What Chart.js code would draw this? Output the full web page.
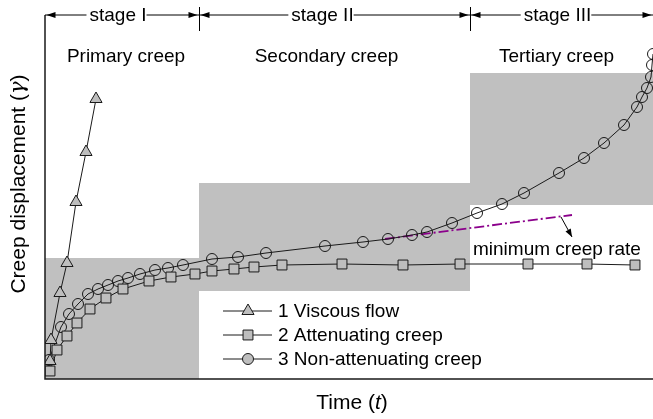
<!DOCTYPE html>
<html>
<head>
<meta charset="utf-8">
<script src="https://cdn.jsdelivr.net/npm/chart.js@4.4.0/dist/chart.umd.min.js"></script>
<style>
  html, body { margin: 0; padding: 0; background: #fff; overflow: hidden; }
  #wrap { width: 653px; height: 419px; }
  #creepChart { display: block; }
</style>
</head>
<body>
<div id="wrap"><canvas id="creepChart" width="653" height="419"></canvas></div>
<script>
// curve 1: viscous flow (time t, displacement gamma, arbitrary units)
const viscousT = [0.5, 0.6, 1.5, 2.2, 3.1, 4.1, 5.1];
const viscousG = [1.8, 3.9, 8.6, 11.6, 17.7, 22.7, 28.0];

// curve 2: attenuating creep
const attenT = [0.5, 1.2, 2.2, 3.2, 4.5, 6.1, 7.8, 10.4, 12.6, 15.0, 16.7, 18.9, 20.9, 23.7, 29.7, 35.8, 41.5, 48.3, 54.2, 59.0];
const attenG = [0.8, 2.9, 4.3, 5.6, 7.0, 8.1, 9.0, 9.8, 10.2, 10.5, 10.8, 11.0, 11.2, 11.4, 11.5, 11.4, 11.5, 11.5, 11.5, 11.4];

// curve 3: non-attenuating creep
const nonAttenT = [0.4, 1.6, 2.4, 3.3, 4.3, 5.3, 6.3, 7.3, 8.3, 9.5, 11.0, 12.3, 13.8, 16.7, 19.3, 22.1, 28.0, 31.8, 34.3, 36.7, 38.2, 40.7, 43.2, 45.7, 47.9, 51.4, 53.9, 55.9, 57.9, 59.2, 59.7, 60.2, 60.6, 60.7, 60.8];
const nonAttenG = [1.9, 5.2, 6.5, 7.5, 8.5, 9.0, 9.4, 9.8, 10.1, 10.5, 10.9, 11.1, 11.4, 12.0, 12.2, 12.6, 13.3, 13.7, 14.0, 14.4, 14.7, 15.6, 16.6, 17.5, 18.6, 20.6, 22.1, 23.6, 25.4, 27.2, 28.2, 29.1, 30.2, 31.4, 32.5];

// minimum creep rate tangent (start, end)
const tangentT = [34.0, 52.7];
const tangentG = [14.0, 16.4];

// stage boundaries on the time axis and the shaded band of each stage
const stageEdges = [0, 15.4, 42.5, 60.8];
const stageNames = ['stage I', 'stage II', 'stage III'];
const creepNames = ['Primary creep', 'Secondary creep', 'Tertiary creep'];
const bandLow = [0, 8.8, 17.4];
const bandHigh = [12.1, 19.6, 30.6];

const toPoints = (xs, ys) => xs.map((v, i) => ({ x: v, y: ys[i] }));

const FONT = '"Liberation Sans", Arial, sans-serif';
const GREY = '#bebebe';
const INK = '#1a1a1a';

function drawMarker(ctx, style, r, px, py) {
  ctx.beginPath();
  if (style === 'triangle') {
    ctx.moveTo(px, py - r);
    ctx.lineTo(px + r * 0.866, py + r * 0.5);
    ctx.lineTo(px - r * 0.866, py + r * 0.5);
    ctx.closePath();
  } else if (style === 'rect') {
    const s = r * Math.SQRT1_2;
    ctx.rect(px - s, py - s, 2 * s, 2 * s);
  } else {
    ctx.arc(px, py, r, 0, Math.PI * 2);
  }
  ctx.fill();
  ctx.stroke();
}

function arrowHead(ctx, tx, ty, dx, dy, len, half) {
  const n = Math.hypot(dx, dy);
  const ux = dx / n, uy = dy / n;
  ctx.beginPath();
  ctx.moveTo(tx, ty);
  ctx.lineTo(tx - ux * len - uy * half, ty - uy * len + ux * half);
  ctx.lineTo(tx - ux * len + uy * half, ty - uy * len - ux * half);
  ctx.closePath();
  ctx.fill();
}

// text made of pieces with their own font, centred on (cx, cy)
function drawRuns(ctx, runs, cx, cy, size) {
  const fonts = runs.map(r => (r.italic ? 'italic ' : '') + size + 'px ' + (r.family || FONT));
  const widths = runs.map((r, i) => { ctx.font = fonts[i]; return ctx.measureText(r.text).width; });
  let xx = cx - widths.reduce((a, b) => a + b, 0) / 2;
  ctx.textAlign = 'left';
  ctx.textBaseline = 'middle';
  runs.forEach((r, i) => { ctx.font = fonts[i]; ctx.fillText(r.text, xx, cy); xx += widths[i]; });
}

const stagePlugin = {
  id: 'stages',
  beforeDatasetsDraw(chart) {
    const { ctx, scales: { x, y } } = chart;
    ctx.save();
    ctx.fillStyle = '#c0c0c0';
    for (let i = 0; i < stageNames.length; i++) {
      const x0 = x.getPixelForValue(stageEdges[i]);
      const x1 = x.getPixelForValue(stageEdges[i + 1]);
      const y0 = y.getPixelForValue(bandHigh[i]);
      const y1 = y.getPixelForValue(bandLow[i]);
      ctx.fillRect(x0, y0, x1 - x0, y1 - y0);
    }
    ctx.restore();
  },
  afterDraw(chart) {
    const { ctx, chartArea: area, scales: { x, y } } = chart;
    ctx.save();

    // axes
    ctx.strokeStyle = INK;
    ctx.lineWidth = 1.5;
    ctx.beginPath();
    ctx.moveTo(area.left, area.top);
    ctx.lineTo(area.left, area.bottom);
    ctx.lineTo(area.right, area.bottom);
    ctx.stroke();

    // stage ruler along the top
    const ry = area.top;
    ctx.lineWidth = 1;
    ctx.strokeStyle = '#000';
    ctx.fillStyle = '#000';
    ctx.beginPath();
    ctx.moveTo(area.left, ry);
    ctx.lineTo(area.right, ry);
    ctx.stroke();
    for (let i = 1; i < stageEdges.length - 1; i++) {
      const bx = Math.round(x.getPixelForValue(stageEdges[i])) + 0.5;
      ctx.beginPath();
      ctx.moveTo(bx, ry - 8);
      ctx.lineTo(bx, ry + 16);
      ctx.stroke();
    }
    const labelShift = [-4, -12, -4];
    ctx.font = '19px ' + FONT;
    ctx.textBaseline = 'middle';
    ctx.textAlign = 'center';
    for (let i = 0; i < stageNames.length; i++) {
      const a = x.getPixelForValue(stageEdges[i]);
      const b = x.getPixelForValue(stageEdges[i + 1]);
      arrowHead(ctx, a + 1.5, ry, -1, 0, 9, 3);
      arrowHead(ctx, b - 1.5, ry, 1, 0, 9, 3);
      const cx = (a + b) / 2 + labelShift[i];
      const w = ctx.measureText(stageNames[i]).width;
      ctx.fillStyle = '#fff';
      ctx.fillRect(cx - w / 2 - 3, ry - 8, w + 3, 16);
      ctx.fillStyle = '#000';
      ctx.fillText(stageNames[i], cx, ry + 1);
    }

    // creep phase names
    const phaseShift = [4, -8, -5];
    for (let i = 0; i < creepNames.length; i++) {
      const cx = (x.getPixelForValue(stageEdges[i]) + x.getPixelForValue(stageEdges[i + 1])) / 2 + phaseShift[i];
      ctx.fillText(creepNames[i], cx, ry + 42);
    }

    // minimum creep rate note with its pointer
    const ax0 = x.getPixelForValue(51.6), ay0 = y.getPixelForValue(16.2);
    const ax1 = x.getPixelForValue(52.7), ay1 = y.getPixelForValue(14.2);
    ctx.beginPath();
    ctx.moveTo(ax0, ay0);
    ctx.lineTo(ax1, ay1);
    ctx.stroke();
    arrowHead(ctx, ax1, ay1, ax1 - ax0, ay1 - ay0, 8, 3);
    ctx.textAlign = 'left';
    ctx.fillText('minimum creep rate', 473, 250);

    // legend
    const rows = [311, 335, 359];
    chart.data.datasets.slice(0, 3).forEach((ds, i) => {
      const ly = rows[i];
      ctx.strokeStyle = INK;
      ctx.lineWidth = 1;
      ctx.beginPath();
      ctx.moveTo(223, ly);
      ctx.lineTo(272, ly);
      ctx.stroke();
      ctx.fillStyle = GREY;
      drawMarker(ctx, ds.pointStyle, ds.pointRadius, 248, ly);
      ctx.fillStyle = '#000';
      ctx.font = '19px ' + FONT;
      ctx.textBaseline = 'middle';
      ctx.fillText(ds.label, 278, ly + 1);
    });

    // axis titles
    ctx.fillStyle = '#000';
    drawRuns(ctx, [{ text: 'Time (' }, { text: 't', italic: true }, { text: ')' }], 352, 403, 21);
    ctx.translate(19, 184);
    ctx.rotate(-Math.PI / 2);
    drawRuns(ctx, [{ text: 'Creep displacement (' }, { text: 'γ', italic: true, family: '"DejaVu Serif", serif' }, { text: ')' }], 0, 0, 21);

    ctx.restore();
  }
};

new Chart(document.getElementById('creepChart').getContext('2d'), {
  type: 'line',
  data: {
    datasets: [
      {
        label: '1 Viscous flow',
        data: toPoints(viscousT, viscousG),
        borderColor: INK,
        borderWidth: 1,
        pointStyle: 'triangle',
        pointRadius: 7,
        pointBackgroundColor: GREY,
        pointBorderColor: INK,
        pointBorderWidth: 1
      },
      {
        label: '2 Attenuating creep',
        data: toPoints(attenT, attenG),
        borderColor: INK,
        borderWidth: 1,
        pointStyle: 'rect',
        pointRadius: 7,
        pointBackgroundColor: GREY,
        pointBorderColor: INK,
        pointBorderWidth: 1
      },
      {
        label: '3 Non-attenuating creep',
        data: toPoints(nonAttenT, nonAttenG),
        borderColor: INK,
        borderWidth: 1,
        pointStyle: 'circle',
        pointRadius: 5.5,
        pointBackgroundColor: 'rgba(0,0,0,0)',
        pointBorderColor: INK,
        pointBorderWidth: 1
      },
      {
        label: 'minimum creep rate',
        data: toPoints(tangentT, tangentG),
        borderColor: '#8b008b',
        borderWidth: 1.8,
        borderDash: [10, 3, 2, 3],
        pointRadius: 0
      }
    ]
  },
  options: {
    responsive: false,
    animation: false,
    layout: { autoPadding: false, padding: { left: 45, top: 15, right: 0, bottom: 40 } },
    scales: {
      x: { type: 'linear', min: 0, max: 60.8, display: false },
      y: { type: 'linear', min: 0, max: 36.4, display: false }
    },
    plugins: {
      legend: { display: false },
      tooltip: { enabled: false }
    }
  },
  plugins: [stagePlugin]
});
</script>
</body>
</html>
